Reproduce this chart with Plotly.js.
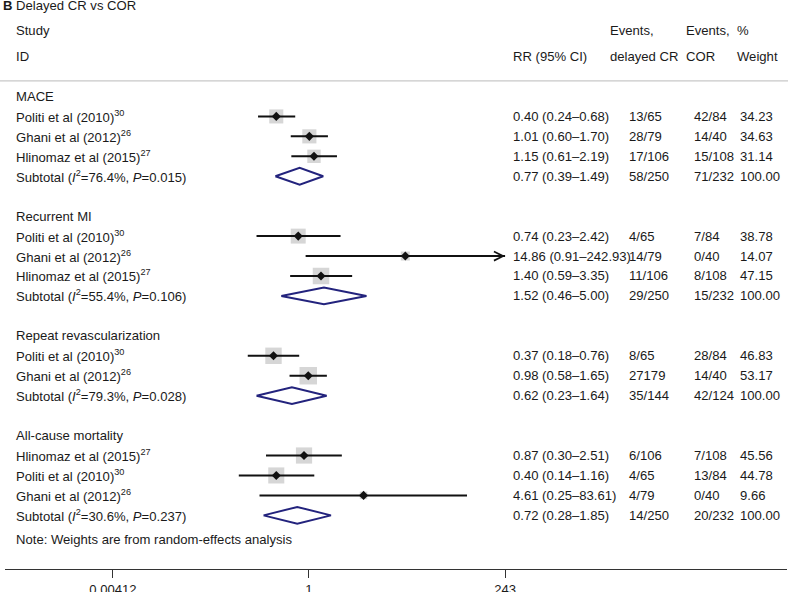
<!DOCTYPE html>
<html>
<head>
<meta charset="utf-8">
<script src="https://cdn.plot.ly/plotly-3.0.1.min.js"></script>
<style>html,body{margin:0;padding:0;background:#fff}#plot{width:794px;height:592px}</style>
</head>
<body>
<div id="plot"></div>
<script>
// Forest plot: delayed CR vs COR
var groups = ["MACE", "Recurrent MI", "Repeat revascularization", "All-cause mortality"];

var studyGroup = [0, 0, 0, 1, 1, 1, 2, 2, 3, 3, 3];
var studyName = ["Politi et al (2010)", "Ghani et al (2012)", "Hlinomaz et al (2015)",
  "Politi et al (2010)", "Ghani et al (2012)", "Hlinomaz et al (2015)",
  "Politi et al (2010)", "Ghani et al (2012)",
  "Hlinomaz et al (2015)", "Politi et al (2010)", "Ghani et al (2012)"];
var studyRef = ["30", "26", "27", "30", "26", "27", "30", "26", "27", "30", "26"];
var studyRR = [0.40, 1.01, 1.15, 0.74, 14.86, 1.40, 0.37, 0.98, 0.87, 0.40, 4.61];
var studyLo = [0.24, 0.60, 0.61, 0.23, 0.91, 0.59, 0.18, 0.58, 0.30, 0.14, 0.25];
var studyHi = [0.68, 1.70, 2.19, 2.42, 242.93, 3.35, 0.76, 1.65, 2.51, 1.16, 83.61];
var studyEvDelayed = ["13/65", "28/79", "17/106", "4/65", "14/79", "11/106", "8/65", "27179", "6/106", "4/65", "4/79"];
var studyEvCor = ["42/84", "14/40", "15/108", "7/84", "0/40", "8/108", "28/84", "14/40", "7/108", "13/84", "0/40"];
var studyWeight = [34.23, 34.63, 31.14, 38.78, 14.07, 47.15, 46.83, 53.17, 45.56, 44.78, 9.66];

var subI2 = ["76.4", "55.4", "79.3", "30.6"];
var subP = ["0.015", "0.106", "0.028", "0.237"];
var subRR = [0.77, 1.52, 0.62, 0.72];
var subLo = [0.39, 0.46, 0.23, 0.28];
var subHi = [1.49, 5.00, 1.64, 1.85];
var subEvDelayed = ["58/250", "29/250", "35/144", "14/250"];
var subEvCor = ["71/232", "15/232", "42/124", "20/232"];
var subWeight = [100, 100, 100, 100];

var tickVals = [0.00412, 1, 243];
var tickText = ["0.00412", "1", "243"];

// layout bits
var W = 794, L = 5, R = 7;
var fnt = "Liberation Sans, Arial, sans-serif", ink = "#1a1a1a", fs = 13.1;
var col = {label: 14, rr: 511, ev1: 627, ev2: 692, wt: 738};
var hcol = {ev1: 608, ev2: 684, wt: 735};
function px(p) { return (p - L) / (W - L - R); }

var ann = [];
function txt(xp, y, s, opts) {
  var a = {xref: "paper", yref: "y", x: px(xp), y: y, text: s, showarrow: false,
    xanchor: "left", yanchor: "middle", font: {family: fnt, size: fs, color: ink}};
  for (var k in opts) a[k] = opts[k];
  ann.push(a);
}
function ciText(rr, lo, hi) {
  return rr.toFixed(2) + " (" + lo.toFixed(2) + "\u2013" + hi.toFixed(2) + ")";
}

var sq = {x: [], y: [], s: []}, ci = {x: [], y: []}, pt = {x: [], y: []}, dia = {x: [], y: []};

var row = 0;
groups.forEach(function(g, gi) {
  txt(col.label, row, g);
  row++;
  for (var i = 0; i < studyName.length; i++) {
    if (studyGroup[i] !== gi) continue;
    txt(col.label, row, studyName[i] + "<sup>" + studyRef[i] + "</sup>");
    txt(col.rr, row, ciText(studyRR[i], studyLo[i], studyHi[i]));
    txt(col.ev1, row, studyEvDelayed[i]);
    txt(col.ev2, row, studyEvCor[i]);
    txt(col.wt, row, studyWeight[i].toFixed(2));
    sq.x.push(studyRR[i]); sq.y.push(row); sq.s.push(2.4 * Math.sqrt(studyWeight[i]));
    ci.x.push(studyLo[i], studyHi[i], null); ci.y.push(row, row, null);
    pt.x.push(studyRR[i]); pt.y.push(row);
    if (studyHi[i] >= 0.99 * tickVals[2]) {
      ann.push({xref: "x", yref: "y", axref: "x", ayref: "y",
        x: Math.log10(studyHi[i]), y: row, ax: Math.log10(studyHi[i]) - 0.3, ay: row,
        showarrow: true, arrowhead: 5, arrowsize: 0.9, arrowwidth: 2, arrowcolor: "#111", text: ""});
    }
    row++;
  }
  txt(col.label, row, "Subtotal (<i>I</i><sup>2</sup>=" + subI2[gi] + "%, <i>P</i>=" + subP[gi] + ")");
  txt(col.rr, row, ciText(subRR[gi], subLo[gi], subHi[gi]));
  txt(col.ev1, row, subEvDelayed[gi]);
  txt(col.ev2, row, subEvCor[gi]);
  txt(col.wt, row, subWeight[gi].toFixed(2));
  dia.x.push(subLo[gi], subRR[gi], subHi[gi], subRR[gi], subLo[gi], null);
  dia.y.push(row, row - 0.42, row, row + 0.42, row, null);
  row++;
  if (gi < groups.length - 1) row++;
});
txt(col.label, row + 0.23, "Note: Weights are from random-effects analysis");

// header
txt(1, -4.54, "<b>B</b> Delayed CR vs COR");
txt(col.label, -3.33, "Study");
txt(col.label, -2.0, "ID");
txt(col.rr, -2.0, "RR (95% CI)");
txt(hcol.ev1, -3.33, "Events,");
txt(hcol.ev1, -2.0, "delayed CR");
txt(hcol.ev2, -3.33, "Events,");
txt(hcol.ev2, -2.0, "COR");
txt(hcol.wt, -3.33, "%");
txt(hcol.wt, -2.0, "Weight");

var yTop = -4.837, yBot = 23.69;

var data = [
  {x: sq.x, y: sq.y, type: "scatter", mode: "markers", hoverinfo: "skip",
    marker: {symbol: "square", size: sq.s, color: "#c4c4c4", line: {width: 0}}},
  {x: ci.x, y: ci.y, type: "scatter", mode: "lines", hoverinfo: "skip",
    line: {color: "#111", width: 2}},
  {x: pt.x, y: pt.y, type: "scatter", mode: "markers", hoverinfo: "skip",
    marker: {symbol: "diamond", size: 7, color: "#111"}},
  {x: dia.x, y: dia.y, type: "scatter", mode: "lines", hoverinfo: "skip",
    line: {color: "#23237d", width: 2}}
];

var layout = {
  width: 794, height: 592,
  margin: {l: L, r: R, t: 0, b: 23},
  paper_bgcolor: "#fff", plot_bgcolor: "#fff",
  showlegend: false,
  font: {family: fnt, size: fs, color: ink},
  xaxis: {type: "log", range: [-3.698, 5.815], showgrid: false, zeroline: false,
    showline: true, linecolor: "#333", linewidth: 1,
    ticks: "outside", ticklen: 8, tickcolor: "#333", tickwidth: 1,
    tickvals: tickVals, ticktext: tickText, tickfont: {family: fnt, size: fs, color: ink}},
  yaxis: {range: [yBot, yTop], visible: false, showgrid: false, zeroline: false},
  shapes: [
    {type: "line", xref: "paper", yref: "y", x0: px(0), x1: px(788), y0: -0.78, y1: -0.78,
      line: {color: "#c8c8c8", width: 1.2}},
    {type: "line", xref: "x", yref: "y", x0: 0, x1: 0, y0: -0.78, y1: yBot,
      line: {color: "#333", width: 1.2}}
  ],
  annotations: ann
};

Plotly.newPlot("plot", data, layout, {displayModeBar: false, staticPlot: true});
</script>
</body>
</html>
